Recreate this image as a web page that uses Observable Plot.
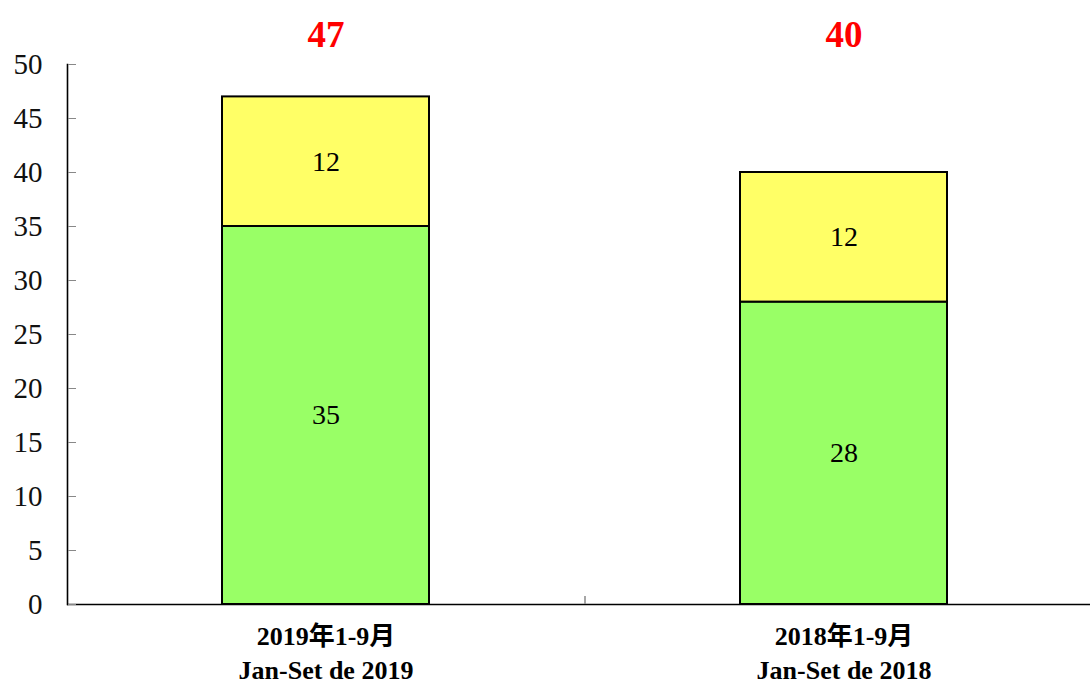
<!DOCTYPE html>
<html>
<head>
<meta charset="utf-8">
<script src="https://cdn.jsdelivr.net/npm/d3@7"></script>
<script src="https://cdn.jsdelivr.net/npm/@observablehq/plot@0.6"></script>
<style>
  html, body { margin: 0; padding: 0; background: white; }
</style>
</head>
<body>
<div id="chart"></div>
<script>
const categories = ["2019年1-9月\nJan-Set de 2019", "2018年1-9月\nJan-Set de 2018"];
const seriesNames = ["lower", "upper"];
const lowerValues = [35, 28];
const upperValues = [12, 12];
const totals = [47, 40];
const yTicks = [0, 5, 10, 15, 20, 25, 30, 35, 40, 45, 50];

const table = categories.flatMap((c, i) => [
  {cat: c, series: "lower", value: lowerValues[i]},
  {cat: c, series: "upper", value: upperValues[i]}
]);
const totalRows = categories.map((c, i) => ({cat: c, total: totals[i]}));

const W = 1090, H = 686, ML = 67;
const chart = Plot.plot({
  width: W, height: H,
  marginTop: 64, marginBottom: 82, marginLeft: ML, marginRight: 0,
  style: {fontFamily: "'Liberation Serif', 'Noto Sans CJK TC', serif", background: "white", overflow: "visible"},
  x: {domain: categories, range: [ML, 1103], paddingInner: 0.6, paddingOuter: 0.3, axis: null},
  y: {domain: [0, 50]},
  color: {domain: seriesNames, range: ["#99FF66", "#FFFF66"]},
  marks: [
    Plot.barY(table, {x: "cat", y: "value", fill: "series", stroke: "black", strokeWidth: 2}),
    Plot.text(table, Plot.stackY({x: "cat", y: "value", text: d => String(d.value), fontSize: 28, fill: "black"})),
    Plot.ruleY([0], {stroke: "black", strokeWidth: 1.6}),
    Plot.frame({anchor: "left", stroke: "black", strokeWidth: 1.6}),
    Plot.axisY(yTicks, {anchor: "right", tickSize: 8, tickFormat: () => "", label: null, stroke: "#888", dx: -(W - ML)}),
    Plot.axisY(yTicks, {anchor: "left", tickSize: 0, tickPadding: 25, fontSize: 29, label: null, fill: "#111"}),
    Plot.ruleX([categories[0]], {x: d => d, dx: 259, y1: 0, y2: 0.75, stroke: "#888", strokeWidth: 1.5}),
    Plot.text(totalRows, {x: "cat", frameAnchor: "top", lineAnchor: "middle", dy: -29, text: d => String(d.total), fill: "#FF0000", fontWeight: "bold", fontSize: 37}),
    Plot.text(categories, {x: d => d, y: 0, dy: 47, text: d => d, lineAnchor: "middle", lineHeight: 1.3, fontSize: 26, fontWeight: "bold", fill: "black"})
  ]
});
document.getElementById("chart").appendChild(chart);
</script>
</body>
</html>
